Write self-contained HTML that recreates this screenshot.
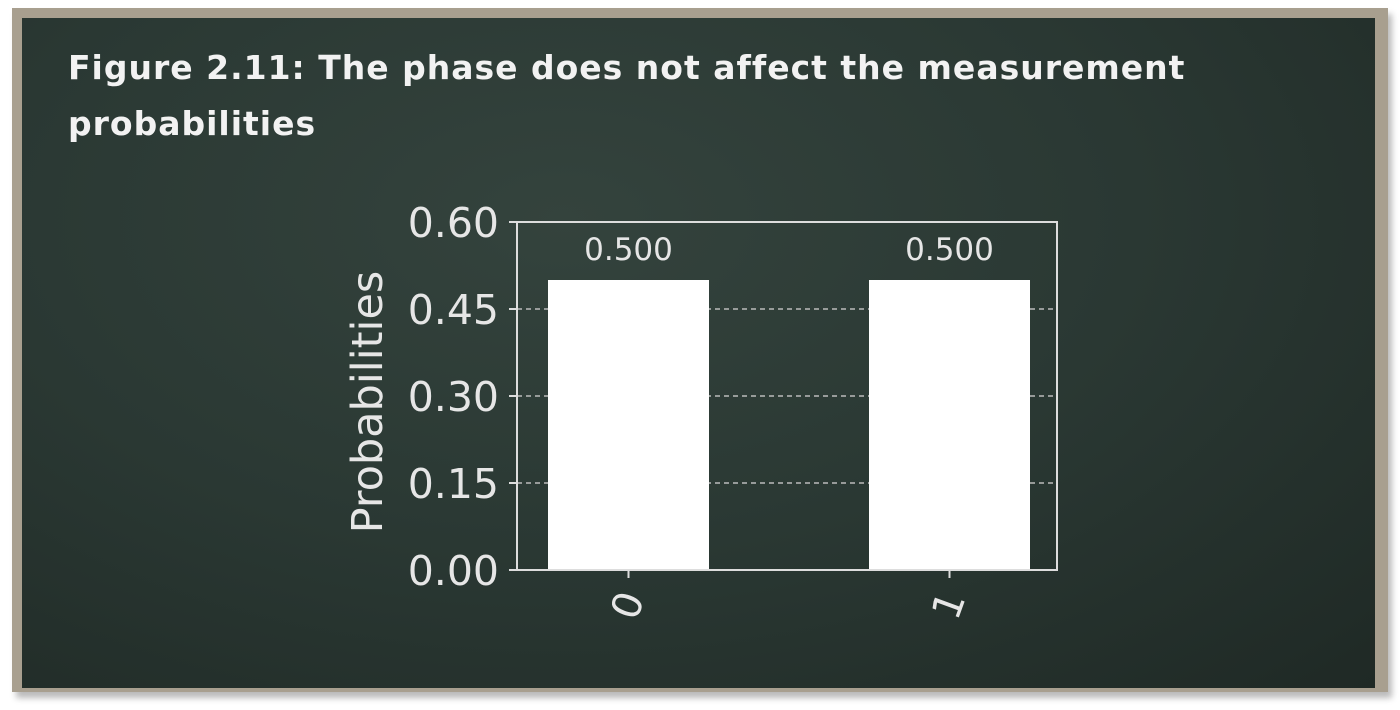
<!DOCTYPE html>
<html><head><meta charset="utf-8"><style>
body{margin:0;width:1400px;height:710px;background:#fff;overflow:hidden}
#frame{position:absolute;left:12px;top:8px;width:1376px;height:684px;background:#a89f8f;box-shadow:4px 6px 6px #bbb}
#board{position:absolute;left:22px;top:18px;width:1353px;height:670px;background:radial-gradient(ellipse at 40% 30%,#34433d 0%,#2a3833 50%,#1f2925 100%)}
#title{position:absolute;left:68px;top:40px;font-family:"Comic Sans MS","DejaVu Sans",sans-serif;font-size:33px;color:#f2f2f2;line-height:56px;font-weight:bold;letter-spacing:1px}
svg{position:absolute;left:0;top:0}
</style></head><body>
<div id="frame"></div>
<div id="board"></div>
<div id="title">Figure 2.11: The phase does not affect the measurement<br>probabilities</div>
<svg id="chart" width="1400" height="710"></svg>
<script>
const categories=["0","1"];
const values=[0.5,0.5];
const valueLabels=["0.500","0.500"];
const yTicks=[0,0.15,0.30,0.45,0.60];
const yTickLabels=["0.00","0.15","0.30","0.45","0.60"];
const NS="http://www.w3.org/2000/svg";
const svg=document.getElementById('chart');
const X0=517,X1=1057,Y0=570,Y1=222,yMax=0.6;
const y=v=>Y0-(v/yMax)*(Y0-Y1);
const PADL=111.5,PADR=107.5;
const step=categories.length>1?(X1-X0-PADL-PADR)/(categories.length-1):0;
const x=i=>categories.length>1?X0+PADL+i*step:(X0+X1)/2;
const barW=161;
function mk(t,a){const e=document.createElementNS(NS,t);for(const k in a)e.setAttribute(k,a[k]);svg.appendChild(e);return e;}
const font='"DejaVu Sans","Liberation Sans",sans-serif';
yTicks.forEach((t,i)=>{
  if(t>0&&t<yMax){const g=mk('line',{x1:X0,x2:X1,y1:y(t),y2:y(t),stroke:'#bbb','stroke-width':1.5,'stroke-dasharray':'5,4'});
  }
  const tk=mk('line',{x1:X0-8,x2:X0,y1:y(t),y2:y(t),stroke:'#ddd','stroke-width':2});
  
  const l=mk('text',{x:X0-18,y:y(t)+15,'text-anchor':'end','font-family':font,'font-size':41,fill:'#e6e6e6'});
  l.textContent=yTickLabels[i];
  
});
categories.forEach((c,i)=>{
  const cx=x(i);
  const b=mk('rect',{x:cx-barW/2,y:y(values[i]),width:barW,height:Y0-y(values[i]),fill:'#fff'});
  
  const v=mk('text',{x:cx,y:y(values[i])-20,'text-anchor':'middle','font-family':font,'font-size':31,fill:'#e6e6e6'});
  v.textContent=valueLabels[i];
  
  const tk=mk('line',{x1:cx,x2:cx,y1:Y0,y2:Y0+8,stroke:'#ddd','stroke-width':2});
  
  const l=mk('text',{x:0,y:0,'text-anchor':'middle','font-family':font,'font-size':40,fill:'#e6e6e6',transform:`translate(${cx+12},${Y0+40}) rotate(-70)`});
  l.textContent=c;
  
});
const ax=mk('rect',{x:X0,y:Y1,width:X1-X0,height:Y0-Y1,fill:'none',stroke:'#ddd','stroke-width':2});

const yl=mk('text',{x:0,y:0,'text-anchor':'middle','font-family':font,'font-size':43,fill:'#e6e6e6',transform:`translate(382,402) rotate(-90)`});
yl.textContent='Probabilities';

</script>
</body></html>
